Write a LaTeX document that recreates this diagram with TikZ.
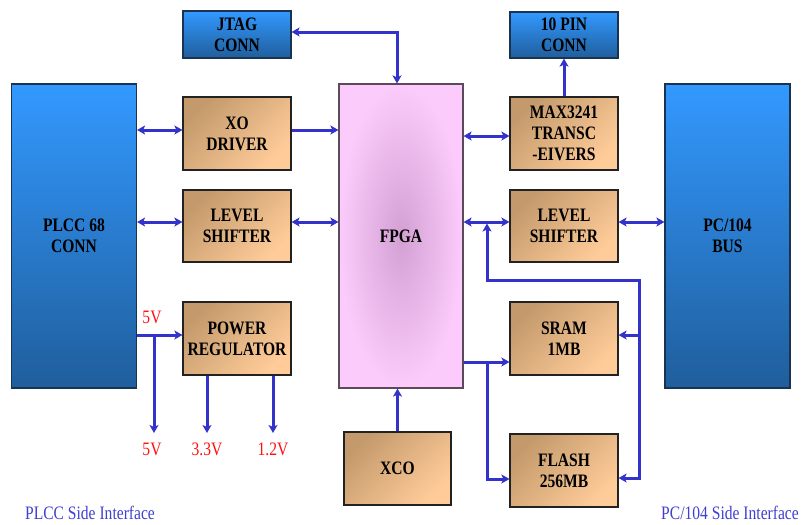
\documentclass[tikz,border=0pt]{standalone}
\usepackage{fontspec}
\setmainfont{Liberation Serif}[FakeStretch=0.82]
\usetikzlibrary{arrows.meta}
\definecolor{arr}{HTML}{3333CC}
\definecolor{blueT}{HTML}{3399FF}
\definecolor{blueB}{HTML}{1F5E9C}
\definecolor{blueE}{HTML}{1A3350}
\definecolor{brownD}{HTML}{C49A6C}
\definecolor{brownL}{HTML}{FFCC99}
\definecolor{brownE}{HTML}{222222}
\definecolor{pinkO}{HTML}{FBCCFB}
\definecolor{pinkC}{HTML}{D4A0D4}
\definecolor{pinkE}{HTML}{5A4A5A}
\definecolor{vred}{HTML}{FF1010}
\definecolor{sideblue}{HTML}{4040D0}
\tikzset{
  blk/.style={line width=1.2pt, inner sep=0pt, align=center,
    font=\bfseries\fontsize{19}{21}\selectfont, text=black},
  bluebox/.style={blk, draw=blueE, top color=blueT, bottom color=blueB},
  brownbox/.style={blk, draw=brownE, top color=brownD, bottom color=brownL, shading angle=45},
  fpgabox/.style={blk, draw=pinkE, shading=radial, inner color=pinkC, outer color=pinkO},
  small/.style={minimum width=108pt, minimum height=73pt},
  tall/.style={minimum width=125pt, minimum height=304pt},
  link/.style={draw=arr, line width=3pt},
  bi/.style={link, {Stealth[length=8pt,width=9pt,inset=2pt]}-{Stealth[length=8pt,width=9pt,inset=2pt]}},
  uni/.style={link, -{Stealth[length=8pt,width=9pt,inset=2pt]}},
  vlab/.style={text=vred, inner sep=0pt, font=\fontsize{19}{21}\selectfont},
  side/.style={text=sideblue, inner sep=0pt, font=\fontsize{19}{21}\selectfont}
}
\begin{document}
\begin{tikzpicture}[x=1pt,y=-1pt]
\useasboundingbox (0,0) rectangle (801,525);
% left column
\node[bluebox, tall] (plcc) at (74,236) {PLCC 68\\CONN};
\node[bluebox, minimum width=108pt, minimum height=47pt] (jtag) at (237,34.5) {JTAG\\CONN};
\node[brownbox, small] (xo) at (237,133.5) {XO\\DRIVER};
\node[brownbox, small, minimum height=72pt] (lsl) at (237,226) {LEVEL\\SHIFTER};
\node[brownbox, small] (pwr) at (237,338.5) {POWER\\REGULATOR};
% centre
\node[fpgabox, minimum width=124pt, minimum height=304pt] (fpga) at (401,236) {FPGA};
\node[brownbox, small, minimum width=107pt] (xco) at (397.5,468.5) {XCO};
% right column
\node[bluebox, minimum width=108pt, minimum height=46pt] (tenpin) at (564,35) {10 PIN\\CONN};
\node[brownbox, small] (max) at (564,133.5) {MAX3241\\TRANSC\\-EIVERS};
\node[brownbox, small, minimum height=72pt] (lsr) at (564,226) {LEVEL\\SHIFTER};
\node[bluebox, tall] (pc) at (727.5,236) {PC/104\\BUS};
\node[brownbox, small] (sram) at (564,338.5) {SRAM\\1MB};
\node[brownbox, small] (flash) at (564,470.5) {FLASH\\256MB};
% helper coordinates
\coordinate (jtR) at ([yshift=2.5pt]jtag.east);
\coordinate (xoL) at ([yshift=3.5pt]xo.west);
\coordinate (xoR) at ([yshift=3.5pt]xo.east);
\coordinate (lslL) at ([yshift=4pt]lsl.west);
\coordinate (lslR) at ([yshift=4pt]lsl.east);
\coordinate (pwrL) at ([yshift=3.5pt]pwr.west);
\coordinate (maxL) at ([yshift=-2.5pt]max.west);
\coordinate (lsrL) at ([yshift=4pt]lsr.west);
\coordinate (lsrR) at ([yshift=4pt]lsr.east);
\coordinate (sramL) at ([yshift=-23.5pt]sram.west);
\coordinate (sramR) at ([yshift=3.5pt]sram.east);
\coordinate (flashL) at ([yshift=-8.5pt]flash.west);
\coordinate (flashR) at ([yshift=-7.5pt]flash.east);
\coordinate (v5) at (154,335);
\coordinate (v5out) at (154,433);
\coordinate (o33) at (207,433);
\coordinate (o12) at (273,433);
\coordinate (j1) at (487,280);
\coordinate (j2) at (639,280);
\coordinate (jt) at ([yshift=-1.5pt]lsrL -| j1);
\coordinate (j3) at (j1 |- sramL);
% connectors
\draw[bi] (jtR) -| ([xshift=-4pt]fpga.north);
\draw[bi] (xoL -| plcc.east) -- (xoL);
\draw[uni] (xoR) -- (xoR -| fpga.west);
\draw[bi] (lslL -| plcc.east) -- (lslL);
\draw[bi] (lslR) -- (lslR -| fpga.west);
\draw[uni] (pwrL -| plcc.east) -- (pwrL);
\draw[uni] (v5) -- (v5out);
\draw[uni] (o33 |- pwr.south) -- (o33);
\draw[uni] (o12 |- pwr.south) -- (o12);
\draw[uni] (xco.north) -- (xco.north |- fpga.south);
\draw[bi] (maxL -| fpga.east) -- (maxL);
\draw[uni] (max.north) -- (tenpin.south);
\draw[bi] (lsrL -| fpga.east) -- (lsrL);
\draw[bi] (lsrR) -- (lsrR -| pc.west);
\draw[bi] (jt) -- (j1) -- (j2) |- (flashR);
\draw[uni] (j2 |- sramR) -- (sramR);
\draw[uni] (sramL -| fpga.east) -- (sramL);
\draw[uni] (j3) |- (flashL);
% labels
\node[vlab] (l5a) at (152,317) {5V};
\node[vlab] (l5b) at (152,449) {5V};
\node[vlab] (l33) at (207,449) {3.3V};
\node[vlab] (l12) at (273,449) {1.2V};
\node[side] (sl) at (90,513) {PLCC Side Interface};
\node[side] (sr) at (730,513) {PC/104 Side Interface};
\end{tikzpicture}
\end{document}
